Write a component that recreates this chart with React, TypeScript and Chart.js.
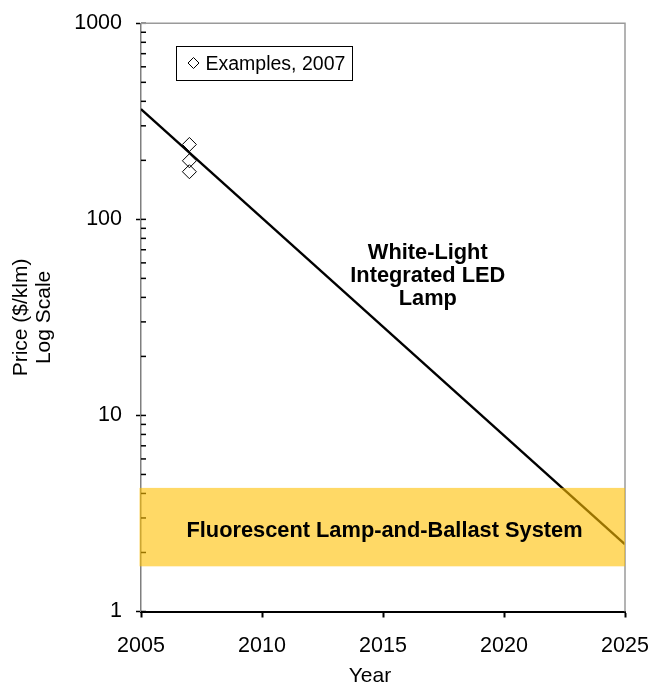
import React, { useEffect, useRef } from "react";
import { Chart, registerables } from "chart.js";

Chart.register(...registerables);

// ---- data ----
const LINE_YEARS = [2005, 2025];
const LINE_PRICES = [365, 2.2];
const EXAMPLE_YEARS = [2007, 2007, 2007];
const EXAMPLE_PRICES = [241, 199, 175];
const BAND_LOW = 1.7;
const BAND_HIGH = 4.27;
const X_TICKS = [2005, 2010, 2015, 2020, 2025];
const Y_MAJOR = [1, 10, 100, 1000];
const Y_MINOR_MULT = [2, 3, 4, 5, 6, 7, 8, 9];
const LINE_LABEL = ["White-Light", "Integrated LED", "Lamp"];
const BAND_LABEL = "Fluorescent Lamp-and-Ballast System";
const LEGEND_LABEL = "Examples, 2007";
const X_TITLE = "Year";
const Y_TITLE = ["Price ($/klm)", "Log Scale"];

const FONT = "'Liberation Sans', Arial, Helvetica, sans-serif";

const overlayPlugin = {
  id: "overlay",
  afterDraw(chart: any) {
    const { ctx, chartArea: a, scales } = chart;
    const ys = scales.y;
    const xs = scales.x;
    ctx.save();

    // inner tick marks on y axis (major + minor)
    ctx.strokeStyle = "#000";
    ctx.lineWidth = 1.5;
    ys.ticks.forEach((t: any) => {
      const y = ys.getPixelForValue(t.value);
      ctx.beginPath();
      ctx.moveTo(a.left, y);
      ctx.lineTo(a.left + 5, y);
      ctx.stroke();
    });

    // top / right border
    ctx.strokeStyle = "#9a9a9a";
    ctx.lineWidth = 1.5;
    ctx.beginPath();
    ctx.moveTo(a.left, a.top);
    ctx.lineTo(a.right, a.top);
    ctx.lineTo(a.right, a.bottom);
    ctx.stroke();

    // band
    const yTop = ys.getPixelForValue(BAND_HIGH);
    const yBot = ys.getPixelForValue(BAND_LOW);
    ctx.fillStyle = "rgba(255,192,0,0.6)";
    ctx.fillRect(a.left - 1.5, yTop, a.right - a.left + 1.5, yBot - yTop);

    // band label
    ctx.fillStyle = "#000";
    ctx.font = `bold 21.8px ${FONT}`;
    ctx.textAlign = "center";
    ctx.textBaseline = "alphabetic";
    const yMid = ys.getPixelForValue(Math.sqrt(BAND_LOW * BAND_HIGH));
    ctx.fillText(BAND_LABEL, (a.left + a.right) / 2 + 1.5, yMid + 9.5);

    // line label
    const lx = xs.getPixelForValue(2016.85);
    LINE_LABEL.forEach((s, i) => {
      ctx.fillText(s, lx, 258.5 + i * 23.4);
    });

    // legend
    ctx.fillStyle = "#fff";
    ctx.fillRect(176.5, 46.5, 176, 34);
    ctx.strokeStyle = "#000";
    ctx.lineWidth = 1;
    ctx.strokeRect(176.5, 46.5, 176, 34);
    const dx = 193.5, dy = 63, r = 5.5;
    ctx.beginPath();
    ctx.moveTo(dx - r, dy);
    ctx.lineTo(dx, dy - r);
    ctx.lineTo(dx + r, dy);
    ctx.lineTo(dx, dy + r);
    ctx.closePath();
    ctx.stroke();
    ctx.fillStyle = "#000";
    ctx.font = `19.5px ${FONT}`;
    ctx.textAlign = "left";
    ctx.fillText(LEGEND_LABEL, 205.5, 70);

    // x title
    ctx.font = `21px ${FONT}`;
    ctx.textAlign = "center";
    ctx.textBaseline = "middle";
    ctx.fillText(X_TITLE, 370, 676);

    ctx.restore();
  },
};

export default function App() {
  const ref = useRef<HTMLCanvasElement | null>(null);

  useEffect(() => {
    document.body.style.margin = "0";
    const canvas = ref.current;
    if (!canvas) return;

    const chart = new Chart(canvas, {
      type: "line",
      data: {
        datasets: [
          {
            type: "scatter",
            label: LEGEND_LABEL,
            data: EXAMPLE_YEARS.map((x, i) => ({ x, y: EXAMPLE_PRICES[i] })),
            pointStyle: "rectRot",
            pointRadius: 7,
            pointBorderWidth: 1,
            borderColor: "#000",
            backgroundColor: "rgba(0,0,0,0)",
            showLine: false,
          } as any,
          {
            type: "line",
            label: LINE_LABEL.join(" "),
            data: LINE_YEARS.map((x, i) => ({ x, y: LINE_PRICES[i] })),
            borderColor: "#000",
            borderWidth: 2.3,
            pointRadius: 0,
            fill: false,
            tension: 0,
          },
        ],
      },
      options: {
        responsive: false,
        animation: false,
        devicePixelRatio: 1,
        layout: { padding: { top: 23.3, right: 27, bottom: 0, left: 0 } },
        plugins: {
          legend: { display: false },
          tooltip: { enabled: false },
        },
        scales: {
          x: {
            type: "linear",
            min: 2005,
            max: 2025,
            afterBuildTicks: (s: any) => {
              s.ticks = X_TICKS.map((v) => ({ value: v }));
            },
            afterFit: (s: any) => {
              s.height = 73.5;
              s.paddingLeft = 0;
              s.paddingRight = 0;
            },
            ticks: {
              autoSkip: false,
              maxRotation: 0,
              color: "#000",
              padding: 16,
              font: { family: FONT, size: 21.5 },
              callback: (v: any) => String(v),
            },
            grid: {
              display: true,
              drawOnChartArea: false,
              drawTicks: true,
              tickLength: 6,
              tickColor: "#000",
              tickWidth: 2,
            },
            border: { display: true, color: "#000", width: 2 },
          },
          y: {
            type: "logarithmic",
            min: 1,
            max: 1000,
            afterBuildTicks: (s: any) => {
              const t: any[] = [];
              Y_MAJOR.forEach((m, i) => {
                t.push({ value: m, major: true });
                if (i < Y_MAJOR.length - 1) {
                  Y_MINOR_MULT.forEach((k) => t.push({ value: m * k }));
                }
              });
              s.ticks = t;
            },
            afterFit: (s: any) => {
              s.width = 141;
              s.paddingTop = 0;
              s.paddingBottom = 0;
            },
            ticks: {
              autoSkip: false,
              color: "#000",
              padding: 14,
              font: { family: FONT, size: 21.5 },
              callback: (v: any) => (Y_MAJOR.includes(Number(v)) ? String(v) : ""),
            },
            grid: {
              display: true,
              drawOnChartArea: false,
              drawTicks: true,
              tickLength: 5,
              tickWidth: 1.5,
              tickColor: (c: any) =>
                c.tick && Y_MAJOR.includes(Number(c.tick.value)) ? "#000" : "rgba(0,0,0,0)",
            },
            border: { display: true, color: "#7f7f7f", width: 1.5 },
            title: {
              display: true,
              text: Y_TITLE,
              color: "#000",
              font: { family: FONT, size: 21, lineHeight: 1.1 },
              padding: { top: 9.5, bottom: 0 },
            },
          },
        },
      },
      plugins: [overlayPlugin],
    } as any);

    return () => chart.destroy();
  }, []);

  return (
    <canvas
      ref={ref}
      width={652}
      height={685}
      style={{ display: "block", width: 652, height: 685 }}
    />
  );
}
